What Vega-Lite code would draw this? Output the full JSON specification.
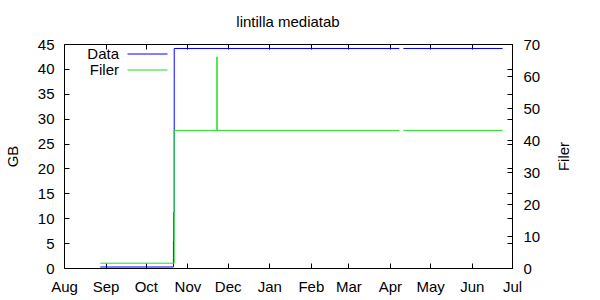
{
  "$schema": "https://vega.github.io/schema/vega-lite/v6.json",
  "autosize": {"type": "none"},
  "padding": {"left": 64, "top": 44, "right": 88, "bottom": 32},
  "width": 448,
  "height": 224,
  "background": "white",
  "config": {
    "font": "Liberation Sans",
    "view": {"stroke": "black", "strokeWidth": 1},
    "axis": {
      "domain": false, "grid": false,
      "tickColor": "black", "tickSize": -5, "tickWidth": 1,
      "labelColor": "black", "labelFontSize": 15, "labelFont": "Liberation Sans",
      "titleFontSize": 15, "titleFontWeight": "normal", "titleColor": "black", "titleFont": "Liberation Sans"
    },
    "legend": {"labelFont": "Liberation Sans"}
  },
  "title": {"text": "lintilla mediatab", "fontSize": 15, "fontWeight": "normal", "font": "Liberation Sans", "color": "black", "anchor": "middle", "baseline": "alphabetic", "offset": 16, "dy": 21},
  "data": {"values": [
    {"series": "Data", "seg": "a", "date": "2009-08-28T00:00:00Z", "value": 0.2},
    {"series": "Data", "seg": "a", "date": "2009-10-21T14:00:00Z", "value": 5.5},
    {"series": "Data", "seg": "a", "date": "2009-10-21T20:00:00Z", "value": 11.2},
    {"series": "Data", "seg": "a", "date": "2009-10-22T04:00:00Z", "value": 44.1},
    {"series": "Data", "seg": "a", "date": "2010-04-08T00:00:00Z", "value": 44.1},
    {"series": "Data", "seg": "b", "date": "2010-04-11T00:00:00Z", "value": 44.1},
    {"series": "Data", "seg": "b", "date": "2010-06-24T00:00:00Z", "value": 44.1},
    {"series": "Filer", "seg": "a", "date": "2009-08-28T00:00:00Z", "value": 1.5},
    {"series": "Filer", "seg": "a", "date": "2009-10-22T04:00:00Z", "value": 43},
    {"series": "Filer", "seg": "a", "date": "2009-11-23T00:00:00Z", "value": 66},
    {"series": "Filer", "seg": "a", "date": "2009-11-23T03:00:00Z", "value": 43},
    {"series": "Filer", "seg": "a", "date": "2010-04-08T00:00:00Z", "value": 43},
    {"series": "Filer", "seg": "b", "date": "2010-04-11T00:00:00Z", "value": 43},
    {"series": "Filer", "seg": "b", "date": "2010-06-24T00:00:00Z", "value": 43}
  ]},
  "layer": [
    {
      "layer": [
        {
          "transform": [{"filter": "datum.series === 'Data'"}],
          "mark": {"type": "line", "interpolate": "step-after", "strokeWidth": 1},
          "encoding": {
            "x": {"field": "date", "type": "temporal",
              "scale": {"type": "utc", "domain": [{"year": 2009, "month": 8, "date": 1, "utc": true}, {"year": 2010, "month": 7, "date": 1, "utc": true}]},
              "axis": {"orient": "bottom", "labelExpr": "utcFormat(datum.value, '%b')", "tickCount": {"interval": "month", "step": 1}, "labelFlush": false, "labelOverlap": false, "labelAlign": "center", "labelBaseline": "alphabetic", "labelPadding": 28, "title": null}},
            "y": {"field": "value", "type": "quantitative", "scale": {"domain": [0, 45]},
              "axis": {"orient": "left", "values": [0, 5, 10, 15, 20, 25, 30, 35, 40, 45], "labelPadding": 15, "labelBaseline": "middle", "title": "GB", "titleAngle": -90, "titleX": -52, "titleY": 112, "titleAlign": "center", "titleBaseline": "middle"}},
            "color": {"field": "series", "type": "nominal",
              "scale": {"domain": ["Data", "Filer"], "range": ["#0000ff", "#22dd22"]},
              "legend": {"orient": "none", "legendX": 76, "legendY": 2, "title": null, "symbolType": "M-4,0H4", "symbolSize": 100, "symbolStrokeWidth": 1, "labelFontSize": 15, "labelColor": "black", "labelAlign": "right", "labelOffset": -36, "rowPadding": 0,
                "encode": {"symbols": {"update": {"shape": {"value": "M-4,0.1H4"}, "fill": {"value": "transparent"}, "stroke": {"scale": "color", "field": "value"}, "strokeOpacity": {"value": 1}, "opacity": {"value": 1}}}}}},
            "detail": {"field": "seg"}
          }
        },
        {
          "transform": [{"filter": "datum.series === 'Data'"}],
          "mark": {"type": "line", "opacity": 0},
          "encoding": {
            "x": {"field": "date", "type": "temporal",
              "axis": {"orient": "top", "tickCount": {"interval": "month", "step": 1}, "labels": false, "title": null}},
            "y": {"field": "value", "type": "quantitative",
              "axis": {"orient": "right", "values": [0, 5, 10, 15, 20, 25, 30, 35, 40, 45], "labels": false, "title": null}}
          }
        }
      ],
      "resolve": {"scale": {"y": "shared", "x": "shared"}, "axis": {"y": "independent", "x": "independent"}}
    },
    {
      "transform": [{"filter": "datum.series === 'Filer'"}],
      "mark": {"type": "line", "interpolate": "step-after", "strokeWidth": 1},
      "encoding": {
        "x": {"field": "date", "type": "temporal", "axis": null},
        "y": {"field": "value", "type": "quantitative", "scale": {"domain": [0, 70]},
          "axis": {"orient": "right", "values": [0, 10, 20, 30, 40, 50, 60, 70], "labelPadding": 16, "labelBaseline": "middle", "title": "Filer", "titleAngle": -90, "titleX": 51, "titleY": 112, "titleAlign": "center", "titleBaseline": "middle"}},
        "color": {"field": "series", "type": "nominal"},
        "detail": {"field": "seg"}
      }
    }
  ],
  "resolve": {"scale": {"y": "independent"}, "axis": {"x": "independent"}}
}
